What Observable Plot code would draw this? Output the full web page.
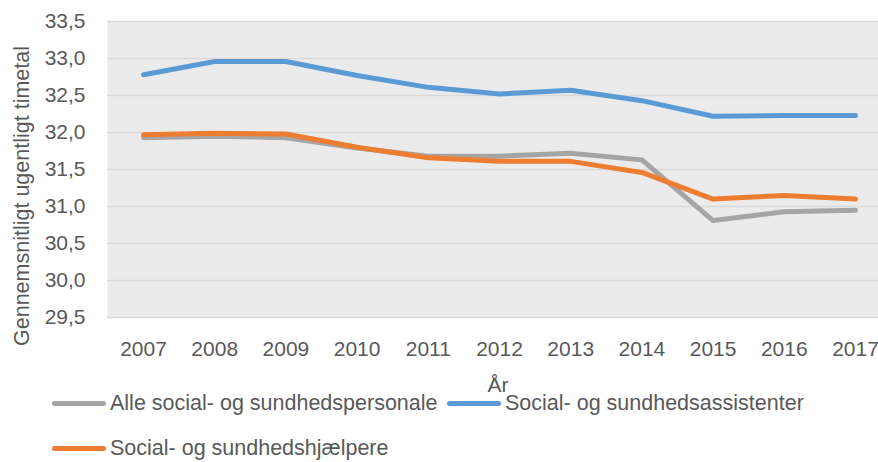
<!DOCTYPE html>
<html><head><meta charset="utf-8">
<script src="https://cdn.jsdelivr.net/npm/d3@7"></script>
<script src="https://cdn.jsdelivr.net/npm/@observablehq/plot@0.6"></script>
<style>
body{margin:0;background:#fff;}
#wrap{position:relative;width:878px;height:462px;overflow:hidden;font-family:"Liberation Sans",sans-serif;color:#595959;}
.ylab{position:absolute;left:22px;top:196px;transform:translate(-50%,-50%) rotate(-90deg);font-size:21.5px;white-space:nowrap;}
.xlab{position:absolute;left:498px;top:385px;transform:translate(-50%,-50%);font-size:21px;}
.leg{position:absolute;font-size:21.5px;display:flex;align-items:center;white-space:nowrap;height:24px;}
.sw{display:inline-block;width:54px;height:5px;border-radius:3px;margin-right:4px;}
</style></head>
<body><div id="wrap"></div>
<script>
const years = [2007,2008,2009,2010,2011,2012,2013,2014,2015,2016,2017];
const seriesNames = ["Alle social- og sundhedspersonale","Social- og sundhedsassistenter","Social- og sundhedshjælpere"];
const alle = [31.93,31.95,31.93,31.79,31.68,31.68,31.72,31.63,30.81,30.93,30.95];
const assistenter = [32.78,32.96,32.96,32.77,32.61,32.52,32.57,32.43,32.22,32.23,32.23];
const hjaelpere = [31.97,31.99,31.98,31.80,31.66,31.61,31.61,31.46,31.10,31.15,31.10];
const colors = ["#a5a5a5","#5b9bd5","#ed7d31"];
const yTicks = [29.5,30,30.5,31,31.5,32,32.5,33,33.5];

const data = [];
[alle, assistenter, hjaelpere].forEach((arr, s) => arr.forEach((v, i) => data.push({year: years[i], value: v, series: seriesNames[s]})));

const fmt = d => d.toFixed(1).replace(".", ",");
const chart = Plot.plot({
  width: 878, height: 462,
  marginTop: 21, marginBottom: 145, marginLeft: 107, marginRight: 0,
  style: {fontFamily: "Liberation Sans, sans-serif", fontSize: "21px", color: "#595959", background: "transparent", overflow: "visible"},
  x: {type: "linear", domain: [2007, 2017], range: [143, 855]},
  y: {domain: [29.5, 33.5]},
  color: {domain: seriesNames, range: colors},
  marks: [
    Plot.frame({fill: "#ebebeb", stroke: null}),
    Plot.ruleY(yTicks, {stroke: "#d9d9d9", strokeWidth: 1.5}),
    Plot.axisY({ticks: yTicks, tickFormat: fmt, tickSize: 0, tickPadding: 22, label: null, fontSize: 21}),
    Plot.axisX({ticks: years, tickFormat: d => String(d), tickSize: 0, tickPadding: 24, label: null, fontSize: 21}),
    Plot.line(data, {x: "year", y: "value", z: "series", stroke: "series", strokeWidth: 5, strokeLinecap: "round", strokeLinejoin: "round"})
  ]
});
const wrap = document.getElementById("wrap");
wrap.appendChild(chart);
chart.style.position = "absolute"; chart.style.left = "0"; chart.style.top = "0";

const yl = document.createElement("div"); yl.className = "ylab"; yl.textContent = "Gennemsnitligt ugentligt timetal"; wrap.appendChild(yl);
const xl = document.createElement("div"); xl.className = "xlab"; xl.textContent = "År"; wrap.appendChild(xl);
const legPos = [[52, 403], [447, 403], [52, 448]];
seriesNames.forEach((n, i) => {
  const d = document.createElement("div"); d.className = "leg";
  d.style.left = legPos[i][0] + "px"; d.style.top = (legPos[i][1] - 12) + "px";
  const sw = document.createElement("span"); sw.className = "sw"; sw.style.background = colors[i];
  d.appendChild(sw); d.appendChild(document.createTextNode(n)); wrap.appendChild(d);
});
</script></body></html>
